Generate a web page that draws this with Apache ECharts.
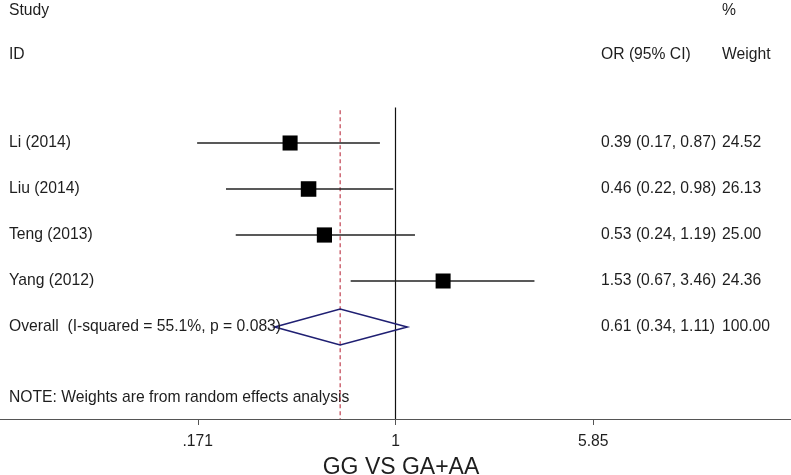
<!DOCTYPE html>
<html>
<head>
<meta charset="utf-8">
<script src="https://cdn.jsdelivr.net/npm/echarts@6/dist/echarts.min.js"></script>
<style>
html,body{margin:0;padding:0;background:#fff;}
#c{width:791px;height:475px;}
</style>
</head>
<body>
<div id="c"></div>
<script>
// ---- data ----
const studies = ['Li (2014)', 'Liu (2014)', 'Teng (2013)', 'Yang (2012)'];
const orVals = [0.39, 0.46, 0.53, 1.53];
const ciLow = [0.17, 0.22, 0.24, 0.67];
const ciHigh = [0.87, 0.98, 1.19, 3.46];
const weights = [24.52, 26.13, 25.00, 24.36];
const rowPos = [1, 2, 3, 4];

const overallLabel = 'Overall  (I-squared = 55.1%, p = 0.083)';
const overallOR = 0.61;
const overallLow = 0.34;
const overallHigh = 1.11;
const overallWeight = 100.00;
const overallRow = 5;

const tickValues = [0.171, 1, 5.85];
const tickLabels = ['.171', '1', '5.85'];
const axisTitle = 'GG VS GA+AA';
const noteText = 'NOTE: Weights are from random effects analysis';
// ---- end data ----

const FONT = '"Liberation Sans", Arial, Helvetica, sans-serif';
const TXT = '#1e1e1e';
const FS = 15.7;
const base = 5.85;

function fmt(v){ return v.toFixed(2); }
function ciText(o,l,h){ return fmt(o) + ' (' + fmt(l) + ', ' + fmt(h) + ')'; }

const rowsText = studies.map((s,i)=>[rowPos[i], s, ciText(orVals[i],ciLow[i],ciHigh[i]), fmt(weights[i])]);
rowsText.push([overallRow, overallLabel, ciText(overallOR,overallLow,overallHigh), fmt(overallWeight)]);

const chart = echarts.init(document.getElementById('c'));
const option = {
  animation: false,
  backgroundColor: '#fff',
  textStyle: {fontFamily: FONT},
  grid: {left: 0, right: 0, top: 0, bottom: 56, containLabel: false},
  xAxis: {
    type: 'log',
    logBase: base,
    min: Math.pow(base, -2),
    max: Math.pow(base, 2),
    splitLine: {show: false},
    axisLine: {show: true, onZero: false, lineStyle: {color: '#555', width: 1}},
    axisTick: {show: true, length: 6, lineStyle: {color: '#555'}},
    axisLabel: {
      show: true, margin: 15, color: TXT, fontSize: FS, fontFamily: FONT,
      showMinLabel: false, showMaxLabel: false,
      formatter: function(v){
        let best = 0, bd = Infinity;
        tickValues.forEach((t,i)=>{ const d = Math.abs(Math.log(v) - Math.log(t)); if (d < bd){bd = d; best = i;} });
        return bd < 0.05 ? tickLabels[best] : '';
      }
    }
  },
  yAxis: {
    type: 'value', inverse: true, min: 7 - 419/46, max: 7,
    show: false
  },
  series: [
    // reference line at OR = 1
    {
      type: 'line', silent: true, symbol: 'none',
      data: [[1, 0.23], [1, 7]],
      lineStyle: {color: '#111', width: 1.2}, z: 1
    },
    // dashed overall line
    {
      type: 'line', silent: true, symbol: 'none',
      data: [[overallOR, 0.29], [overallOR, 7]],
      lineStyle: {color: '#c0404f', width: 1.2, type: [4, 3]}, z: 1
    },
    // CI lines
    {
      type: 'custom', silent: true, z: 2,
      data: studies.map((s,i)=>[ciLow[i], ciHigh[i], rowPos[i]]),
      encode: {x: [0, 1], y: 2},
      renderItem: function(params, api){
        const p1 = api.coord([api.value(0), api.value(2)]);
        const p2 = api.coord([api.value(1), api.value(2)]);
        return {type: 'line', shape: {x1: p1[0], y1: p1[1], x2: p2[0], y2: p2[1]},
          style: {stroke: '#222', lineWidth: 1.7}};
      }
    },
    // point estimates
    {
      type: 'scatter', silent: true, z: 3,
      symbol: 'rect',
      data: studies.map((s,i)=>[orVals[i], rowPos[i], weights[i]]),
      symbolSize: function(v){ return 15.2 * Math.sqrt(v[2] / 25); },
      itemStyle: {color: '#000', opacity: 1}
    },
    // overall diamond
    {
      type: 'custom', silent: true, z: 3,
      data: [[overallLow, overallOR, overallHigh, overallRow]],
      encode: {x: [0, 1, 2], y: 3},
      renderItem: function(params, api){
        const r = api.value(3);
        const l = api.coord([api.value(0), r]);
        const m = api.coord([api.value(1), r]);
        const h = api.coord([api.value(2), r]);
        const hh = 18;
        return {type: 'polygon', shape: {points: [[l[0], l[1]], [m[0], m[1] - hh], [h[0], h[1]], [m[0], m[1] + hh]]},
          style: {fill: 'none', stroke: '#1f1f72', lineWidth: 1.6}};
      }
    },
    // row texts
    {
      type: 'custom', silent: true, z: 4,
      data: rowsText,
      encode: {y: 0},
      renderItem: function(params, api){
        const d = rowsText[params.dataIndex];
        const y = api.coord([1, d[0]])[1];
        const st = {fill: TXT, fontSize: FS, fontFamily: FONT, verticalAlign: 'middle', textAlign: 'left'};
        return {type: 'group', children: [
          {type: 'text', x: 9, y: y, style: Object.assign({text: d[1]}, st)},
          {type: 'text', x: 601, y: y, style: Object.assign({text: d[2]}, st)},
          {type: 'text', x: 722, y: y, style: Object.assign({text: d[3]}, st)}
        ]};
      }
    }
  ],
  graphic: [
    {type: 'text', left: 9, top: 3, style: {text: 'Study', fill: TXT, font: FS + 'px ' + FONT}},
    {type: 'text', left: 9, top: 47, style: {text: 'ID', fill: TXT, font: FS + 'px ' + FONT}},
    {type: 'text', left: 722, top: 3, style: {text: '%', fill: TXT, font: FS + 'px ' + FONT}},
    {type: 'text', left: 601, top: 47, style: {text: 'OR (95% CI)', fill: TXT, font: FS + 'px ' + FONT}},
    {type: 'text', left: 722, top: 47, style: {text: 'Weight', fill: TXT, font: FS + 'px ' + FONT}},
    {type: 'text', left: 9, top: 390, style: {text: noteText, fill: TXT, font: FS + 'px ' + FONT}},
    {type: 'text', x: 401, y: 468, style: {text: axisTitle, fill: TXT, font: '23px ' + FONT, textAlign: 'center', textVerticalAlign: 'middle'}}
  ]
};
chart.setOption(option);
</script>
</body>
</html>
